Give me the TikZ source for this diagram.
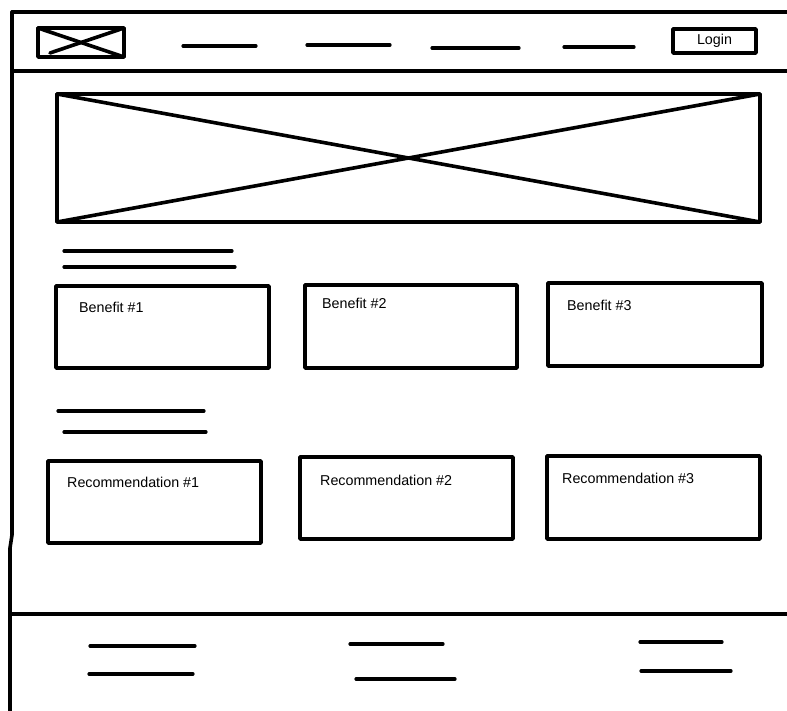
\documentclass[tikz,border=0pt]{standalone}
\usepackage{fontspec}
\setmainfont{Liberation Sans}
\begin{document}
\begin{tikzpicture}[x=1pt,y=-1pt,
  ink/.style={line width=3.6pt,line cap=round,line join=round},
  bar/.style={line width=3.2pt,line cap=round},
  boxlabel/.style={anchor=west,inner sep=0pt,font=\fontsize{14.3}{17}\selectfont}]
\useasboundingbox (0,0) rectangle (787,711);
\fill[white] (0,0) rectangle (787,711);

% page frame
\draw[ink] (12,12) -- (792,12);
\draw[ink] (12,12) -- (12,535) -- (10,548) -- (10,716);
\draw[ink] (12,71) -- (792,71);
\draw[ink] (10,614) -- (792,614);

% header: logo placeholder
\draw[ink] (38,28) rectangle (124,57);
\draw[ink] (38,28) -- (124,57);
\draw[ink] (50,53) -- (124,28);

% header: navigation items
\draw[bar] (183,46) -- (256,46);
\draw[bar] (307,45) -- (390,45);
\draw[bar] (432,48) -- (519,48);
\draw[bar] (564,47) -- (634,47);

% header: login button
\draw[ink] (673,29) rectangle (756,53);
\node[inner sep=0pt,font=\fontsize{14.3}{17}\selectfont] (login) at (714.5,41) {Login};

% hero image placeholder
\draw[ink] (57,94) rectangle (760,222);
\draw[ink] (57,94) -- (760,222);
\draw[ink] (57,222) -- (760,94);

% benefits heading
\draw[bar] (64,251) -- (232,251);
\draw[bar] (64,267) -- (235,267);

% benefit cards
\draw[ink] (56,286) rectangle (269,368);
\node[boxlabel] (b1) at (79,307) {Benefit \#1};
\draw[ink] (305,285) rectangle (517,368);
\node[boxlabel] (b2) at (322,303) {Benefit \#2};
\draw[ink] (548,283) rectangle (762,366);
\node[boxlabel] (b3) at (567,305) {Benefit \#3};

% recommendations heading
\draw[bar] (58,411) -- (204,411);
\draw[bar] (64,432) -- (206,432);

% recommendation cards
\draw[ink] (48,461) rectangle (261,543);
\node[boxlabel] (r1) at (67,482) {Recommendation \#1};
\draw[ink] (300,457) rectangle (513,539);
\node[boxlabel] (r2) at (320,480) {Recommendation \#2};
\draw[ink] (547,456) rectangle (760,539);
\node[boxlabel] (r3) at (562,478) {Recommendation \#3};

% footer links
\draw[bar] (90,646) -- (195,646);
\draw[bar] (89,674) -- (193,674);
\draw[bar] (350,644) -- (443,644);
\draw[bar] (356,679) -- (455,679);
\draw[bar] (640,642) -- (722,642);
\draw[bar] (641,671) -- (731,671);
\end{tikzpicture}
\end{document}
